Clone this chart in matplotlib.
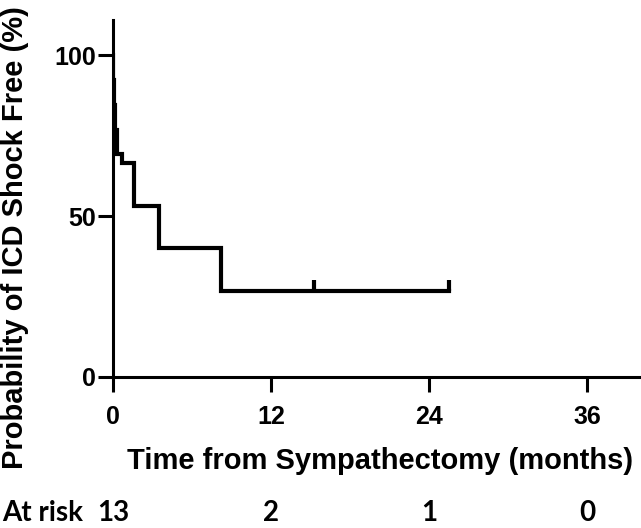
import matplotlib
matplotlib.use("Agg")
import matplotlib.pyplot as plt
import matplotlib.transforms as mtrans
from matplotlib.path import Path

plt.rcParams['font.family'] = ['Liberation Sans', 'DejaVu Sans']
plt.rcParams['font.weight'] = 'bold'

# Kaplan-Meier 곡선 (시간: 개월, 생존율: %)
times = [0, 0.05, 0.12, 0.2, 0.35, 0.7, 1.6, 3.5, 8.2, 25.5]
surv = [100, 92.3, 84.6, 76.9, 69.2, 66.7, 53.3, 40.0, 26.7, 26.7]
censor_t = [15.3, 25.5]
censor_s = [26.7, 26.7]

risk_t = [0, 12, 24, 36]
risk_n = [13, 2, 1, 0]

fig = plt.figure(figsize=(6.41, 5.28), dpi=100)
ax = fig.add_axes([0.176, 0.286, 0.822, 0.676])

ax.step(times, surv, where='post', color='black', lw=3, solid_joinstyle='miter')
up_tick = Path([[0, 0], [0, 1]])  # 위쪽으로만 그리는 중도절단 표시
ax.plot(censor_t, censor_s, linestyle='none', marker=up_tick, markersize=16, mew=3, color='black')

ax.set_xlim(0, 40)
ax.set_ylim(0, 111)
ax.set_xticks([0, 12, 24, 36])
ax.set_yticks([0, 50, 100])
ax.tick_params(width=2.2, length=11, labelsize=18)
ax.tick_params(axis='x', pad=9)
ax.tick_params(axis='y', pad=1)
for s in ['top', 'right']:
    ax.spines[s].set_visible(False)
for s in ['left', 'bottom']:
    ax.spines[s].set_linewidth(2.2)

ax.set_xlabel("Time from Sympathectomy (months)", fontsize=21, fontweight='bold')
ax.set_ylabel("Probability of ICD Shock Free (%)", fontsize=21, fontweight='bold')
ax.xaxis.set_label_coords(0.507, -0.195)
ax.yaxis.set_label_coords(-0.16, 0.39)

# 위험군 숫자 (at risk)
trans = mtrans.blended_transform_factory(ax.transData, fig.transFigure)
fig.text(0.004, 0.028, "At risk", fontsize=20, fontweight='bold', family='Lato',
         va='center', ha='left')
for t, n in zip(risk_t, risk_n):
    ax.text(t, 0.028, str(n), transform=trans, fontsize=20, fontweight='bold', family='Lato',
            ha='center', va='center', clip_on=False)

fig.savefig("out.png", dpi=100)
